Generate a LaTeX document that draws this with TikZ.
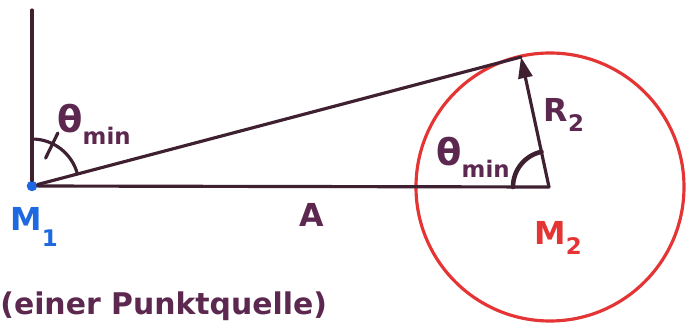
\documentclass[tikz,border=0pt]{standalone}
\usepackage{fontspec}
\setmainfont{DejaVu Sans}
\usetikzlibrary{arrows.meta}
\definecolor{ink}{RGB}{62,32,48}
\definecolor{plum}{RGB}{92,40,80}
\definecolor{penred}{RGB}{228,52,52}
\definecolor{penblue}{RGB}{30,105,225}
\newcommand{\lowidx}[2][-0.55ex]{\raisebox{#1}{\fontsize{13}{13}\selectfont #2}}

\begin{document}
\begin{tikzpicture}[x=0.02cm, y=0.02cm,
    pen/.style={ink, line width=1.8pt, line cap=round},
    lbl/.style={text=plum, font=\bfseries\fontsize{18}{18}\selectfont, inner sep=0pt}
]
\useasboundingbox (0,0) rectangle (698,322);
\clip (0,0) rectangle (698,322);
\fill[white] (0,0) rectangle (698,322);

\node[circle, fill=penblue, inner sep=0pt, minimum size=6pt] (M1) at (32,136) {};
\coordinate (M2) at (549,135);
\coordinate (T) at (521,265);
\coordinate (top) at (32,312);

\draw[penred, line width=1.8pt] (550,135) circle (134);
\draw[pen] (top) -- (M1.north);
\draw[pen] (M1) -- (T);
\draw[pen] (M1) -- (M2);
\draw[pen, -{Triangle[length=12pt,width=8pt]}] (M2) -- (T);

% angle marks
\draw[pen] ([shift={(90:47)}]M1.center) arc (90:15:47);
\draw[pen] ([shift={(64:31)}]M1.center) -- ([shift={(64:59)}]M1.center);
\draw[pen, line width=2.6pt] ([shift={(180:36)}]M2) arc (180:102:36);

\node[lbl] (thetaA) at (94,198) {{\fontsize{21}{21}\selectfont θ}\lowidx[-0.7ex]{min}};
\node[lbl] (thetaB) at (473,165) {{\fontsize{21}{21}\selectfont θ}\lowidx[-0.7ex]{min}};
\node[lbl] (R2) at (564,207) {R\lowidx{2}};
\node[lbl] (A) at (312,107) {A};
\node[lbl, text=penblue] (M1lbl) at (34,95) {M\lowidx[-0.9ex]{1}};
\node[lbl, text=penred] (M2lbl) at (558,84) {M\lowidx{2}};
\node[lbl, anchor=west, font=\bfseries\fontsize{17}{17}\selectfont] (note) at (0,16) {(einer Punktquelle)};
\end{tikzpicture}
\end{document}
